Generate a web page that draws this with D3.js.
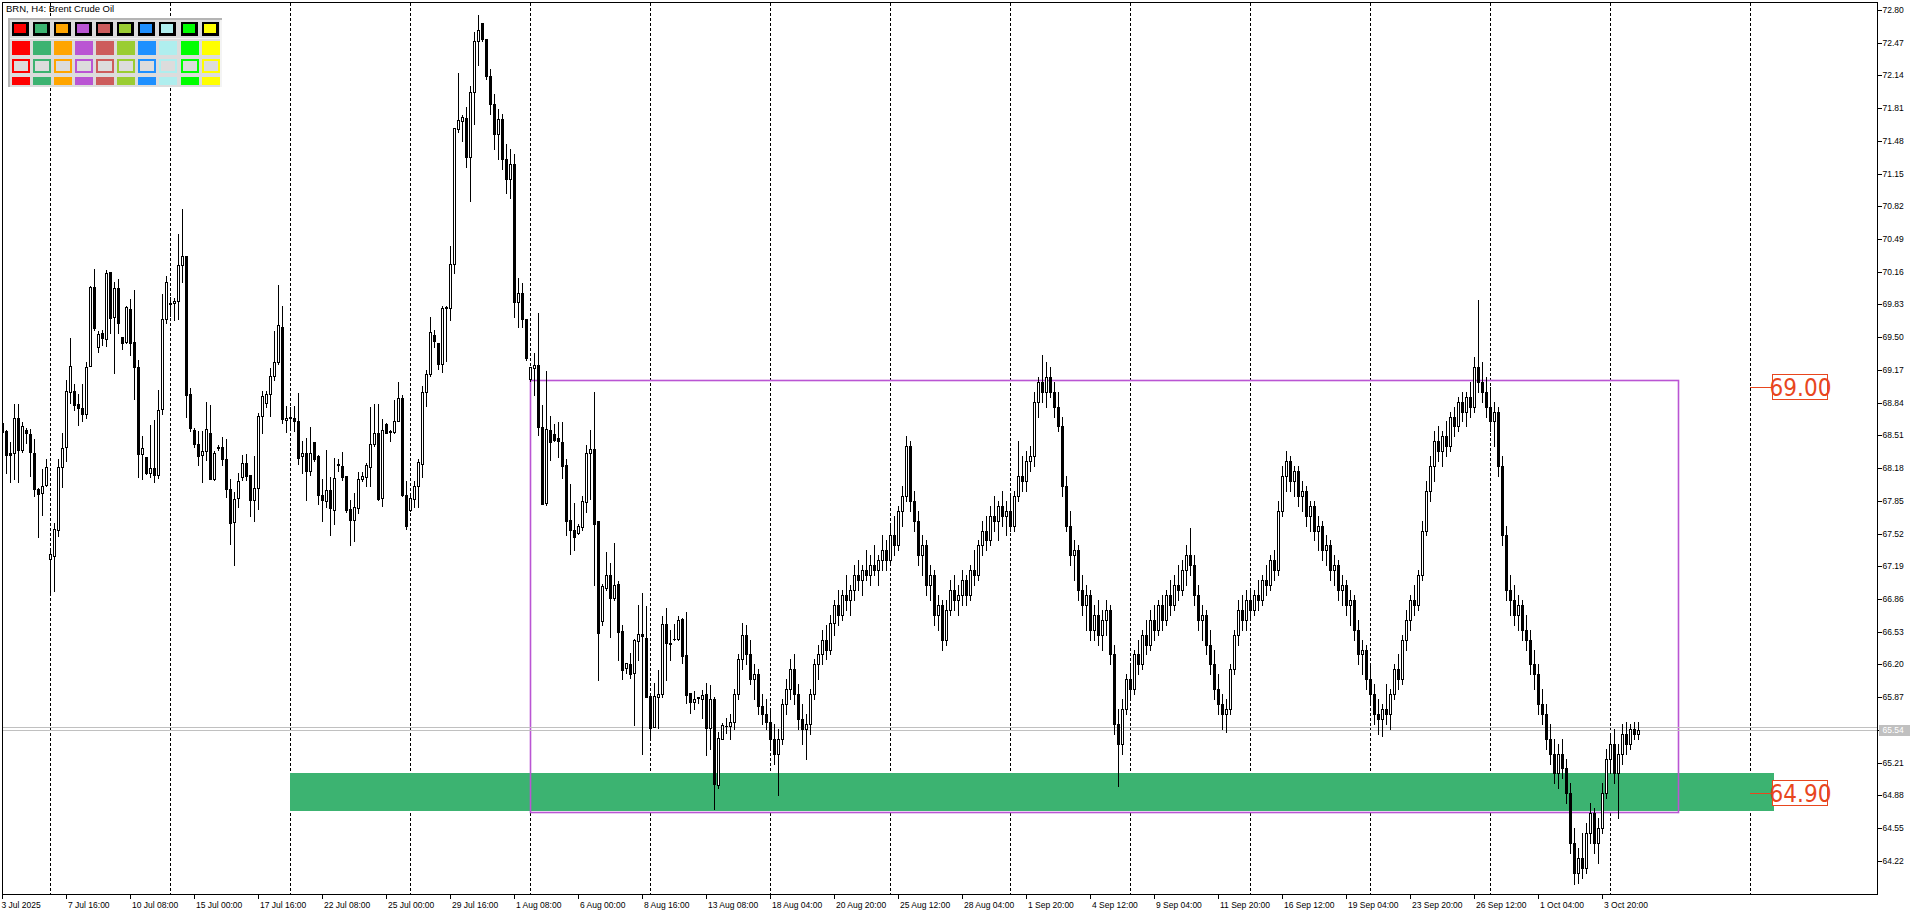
<!DOCTYPE html>
<html><head><meta charset="utf-8">
<script src="https://cdn.jsdelivr.net/npm/d3@7"></script>
<style>
html,body{margin:0;padding:0;background:#fff;overflow:hidden}
svg{display:block}
</style></head><body>
<svg id="chart" width="1920" height="915"></svg>
<script>
// ---- data (H4 candles, bar 0 = 3 Jul 2025) ----
const opens = [
68.63,68.55,68.33,68.33,68.69,68.36,68.56,68.52,68.33,67.97,67.93,68.01,67.26,67.29,67.56,68.19,68.39,68.95,68.96,68.83,
68.79,68.73,69.21,70.01,69.40,69.54,69.48,70.16,69.70,70.00,69.50,69.45,69.78,69.45,69.20,68.32,68.29,68.13,68.18,68.11,
68.78,69.68,69.83,69.84,69.86,70.23,70.32,68.93,68.56,68.42,68.31,68.35,68.53,68.07,68.39,68.39,68.27,67.97,67.64,67.88,
68.09,68.23,68.11,67.86,67.98,68.71,68.84,68.93,69.11,69.25,69.60,68.66,68.69,68.69,68.65,68.30,68.33,68.15,68.44,68.30,
67.91,67.85,67.96,67.76,68.21,68.20,68.10,67.77,67.66,67.78,68.07,68.09,68.19,68.42,68.53,67.88,68.62,68.54,68.54,68.65,
68.89,67.91,67.76,67.87,68.00,68.22,68.95,69.13,69.52,69.44,69.23,69.79,69.79,70.24,71.60,71.68,71.71,71.32,71.97,72.49,
72.67,72.51,72.13,71.85,71.55,71.70,71.30,71.10,71.25,69.85,69.95,69.68,69.08,69.19,69.22,68.59,67.83,68.56,68.52,68.48,
68.44,68.21,67.66,67.56,67.53,67.59,67.84,68.33,68.37,67.65,66.64,66.97,67.10,66.87,67.01,66.54,66.16,66.20,66.11,66.44,
66.51,66.47,65.88,65.57,65.87,65.90,66.61,66.42,66.46,66.46,66.66,66.29,65.91,65.82,65.86,65.85,65.90,65.56,65.85,64.98,
65.45,65.58,65.58,65.62,65.90,66.25,66.50,66.30,66.05,66.10,65.78,65.70,65.62,65.45,65.30,65.45,65.80,65.95,66.15,65.90,
65.65,65.55,65.60,65.90,66.20,66.30,66.45,66.35,66.62,66.80,66.70,66.90,66.85,66.95,67.10,67.05,67.15,67.10,67.20,67.15,
67.25,67.35,67.25,67.50,67.40,67.75,67.90,68.40,67.85,67.65,67.30,67.40,67.00,67.10,66.70,66.80,66.45,66.75,66.95,66.85,
66.90,67.05,66.90,67.15,67.10,67.40,67.55,67.45,67.70,67.65,67.80,67.70,67.75,67.60,67.90,68.10,68.05,68.25,68.30,68.85,
69.05,68.95,69.10,68.95,68.80,68.60,68.00,67.60,67.30,67.35,66.95,66.80,66.90,66.55,66.70,66.50,66.65,66.75,66.30,65.60,
65.40,65.75,66.05,65.95,66.30,66.20,66.50,66.40,66.65,66.55,66.80,66.65,66.90,66.80,67.00,66.95,67.15,67.30,67.20,66.90,
66.65,66.70,66.40,66.20,65.95,65.80,65.70,65.75,66.15,66.50,66.75,66.65,66.85,66.75,66.90,66.85,67.05,67.00,67.25,67.15,
67.75,68.10,68.25,68.05,68.15,67.90,67.95,67.70,67.80,67.55,67.60,67.35,67.40,67.15,67.20,66.95,67.00,66.80,66.85,66.55,
66.30,66.35,66.05,65.90,65.70,65.65,65.75,65.70,65.90,66.15,66.05,66.45,66.65,66.85,66.80,67.10,67.55,67.95,68.20,68.45,
68.35,68.50,68.40,68.70,68.60,68.85,68.75,68.90,68.80,69.20,69.05,68.95,68.80,68.65,68.75,68.20,67.50,66.95,66.85,66.70,
66.80,66.55,66.45,66.20,66.10,65.80,65.70,65.45,65.30,65.10,65.30,65.15,64.90,64.40,64.10,64.25,64.15,64.50,64.70,64.40,
64.55,64.90,65.25,65.40,65.10,65.30,65.50,65.40,65.55,65.50];
const highs = [
68.64,68.56,68.44,68.83,68.83,68.64,68.58,68.57,68.47,67.98,68.17,68.27,67.35,67.63,68.27,68.53,69.07,69.49,69.03,68.93,
69.03,69.25,70.02,70.19,69.56,69.57,70.18,70.16,70.06,70.09,69.50,69.81,69.89,69.98,69.27,68.50,68.29,68.61,68.66,68.97,
69.94,70.12,69.91,69.90,70.54,70.79,70.32,68.99,68.58,68.55,68.55,68.85,68.82,68.35,68.41,68.49,68.47,68.07,67.94,68.13,
68.31,68.32,68.11,68.30,68.74,68.96,68.96,69.19,69.56,70.03,69.81,68.81,68.80,68.81,68.94,68.45,68.48,68.59,68.44,68.31,
68.07,68.36,68.09,68.28,68.27,68.34,68.10,67.86,67.93,68.14,68.14,68.23,68.80,68.83,68.83,68.67,68.63,68.56,68.87,69.05,
68.92,68.05,67.93,68.05,68.27,69.01,69.17,69.70,69.57,69.44,69.81,69.81,70.42,71.61,72.16,71.74,71.82,72.03,72.58,72.75,
72.67,72.51,72.20,71.95,71.80,71.75,71.45,71.40,71.35,70.10,70.05,69.68,69.20,69.34,69.74,68.82,69.16,68.71,68.62,68.64,
68.64,68.27,68.02,67.83,67.62,67.90,68.41,68.56,68.95,67.65,67.01,67.33,67.22,67.42,67.04,66.60,66.21,66.31,66.46,66.80,
66.92,66.79,65.88,66.01,66.14,66.69,66.77,66.55,66.61,66.69,66.67,66.73,65.91,65.93,65.87,65.94,66.01,65.99,65.87,65.52,
65.61,65.66,65.70,65.95,66.30,66.62,66.60,66.45,66.20,66.15,65.90,65.85,65.75,65.60,65.55,65.85,66.05,66.25,66.30,66.00,
65.80,65.70,65.95,66.25,66.40,66.55,66.60,66.70,66.85,66.95,66.95,67.10,67.00,67.20,67.25,67.20,67.35,67.30,67.40,67.30,
67.50,67.45,67.60,67.70,67.80,68.00,68.50,68.45,67.95,67.75,67.50,67.45,67.20,67.15,66.90,66.85,66.85,67.05,67.10,67.00,
67.15,67.10,67.20,67.35,67.45,67.65,67.70,67.80,67.90,67.85,67.95,67.85,67.90,67.95,68.45,68.30,68.35,68.40,68.95,69.10,
69.32,69.25,69.20,69.05,68.95,68.70,68.10,67.75,67.45,67.40,67.10,67.00,66.95,66.80,66.85,66.75,66.85,66.80,66.40,65.75,
65.85,66.10,66.20,66.35,66.45,66.55,66.65,66.75,66.80,66.85,66.90,66.95,67.05,67.10,67.20,67.25,67.40,67.58,67.30,67.00,
66.80,66.75,66.55,66.35,66.10,65.90,65.85,66.20,66.55,66.85,66.90,66.95,66.95,66.95,67.05,67.10,67.20,67.30,67.35,67.85,
68.20,68.35,68.30,68.20,68.20,68.05,68.00,67.85,67.85,67.70,67.65,67.50,67.45,67.30,67.25,67.10,67.05,66.95,66.90,66.65,
66.45,66.40,66.20,66.00,65.85,65.80,66.00,65.95,66.20,66.30,66.50,66.75,66.90,67.00,67.15,67.65,68.05,68.30,68.55,68.60,
68.55,68.65,68.75,68.80,68.90,68.95,68.95,69.05,69.30,69.88,69.25,69.10,69.00,68.85,68.80,68.30,67.60,67.10,67.00,66.90,
66.85,66.70,66.55,66.35,66.20,65.95,65.80,65.60,65.45,65.40,65.45,65.25,65.00,64.55,64.35,64.50,64.60,64.80,64.75,64.65,
65.00,65.35,65.50,65.55,65.40,65.60,65.62,65.60,65.62,65.62];
const lows = [
68.54,68.13,68.04,68.07,68.04,68.34,68.43,68.10,67.90,67.48,67.71,68.00,66.93,66.94,67.49,67.99,68.25,68.84,68.77,68.61,
68.65,68.68,69.21,69.57,69.35,69.42,69.41,69.54,69.14,69.54,69.38,69.44,69.32,68.88,68.09,68.07,68.12,68.09,68.04,68.08,
68.73,69.64,69.71,69.67,69.68,70.06,68.70,68.55,68.39,68.21,68.04,68.26,68.07,68.06,68.36,68.21,67.89,67.41,67.20,67.79,
68.06,68.06,67.70,67.65,67.77,68.53,68.80,68.71,69.07,69.23,68.63,68.54,68.56,68.55,68.22,68.13,67.86,68.11,68.25,67.82,
67.65,67.79,67.50,67.62,68.15,68.06,67.74,67.40,67.44,67.73,68.05,68.00,68.00,68.40,67.86,67.80,68.53,68.45,68.53,68.65,
67.90,67.57,67.75,67.79,67.79,68.09,68.81,69.11,69.40,69.18,69.15,69.26,69.67,70.15,71.57,71.48,71.22,70.87,71.65,72.25,
72.49,72.10,71.75,71.40,71.30,71.20,70.95,70.90,69.70,69.60,69.60,69.27,69.06,68.92,68.51,67.82,67.81,68.26,68.45,68.29,
68.08,67.50,67.31,67.35,67.51,67.56,67.74,67.87,67.00,66.04,66.60,66.95,66.48,66.85,66.24,66.05,66.11,66.06,65.59,66.24,
65.30,65.87,65.47,65.57,65.56,65.87,66.04,66.24,66.45,66.45,66.21,65.81,65.71,65.75,65.81,65.66,65.29,65.35,64.74,64.95,
65.45,65.51,65.45,65.55,65.85,66.15,66.20,66.00,65.85,65.70,65.60,65.55,65.35,65.20,64.88,65.40,65.70,65.85,65.80,65.55,
65.40,65.25,65.50,65.85,66.05,66.20,66.25,66.30,66.50,66.60,66.65,66.75,66.70,66.85,66.95,66.90,67.05,67.00,67.10,67.00,
67.15,67.15,67.20,67.30,67.35,67.60,67.85,67.75,67.55,67.20,67.10,66.90,66.85,66.60,66.55,66.35,66.40,66.70,66.75,66.70,
66.80,66.80,66.85,67.00,67.05,67.30,67.35,67.40,67.55,67.45,67.60,67.50,67.55,67.55,67.85,67.95,67.95,68.15,68.20,68.70,
68.85,68.80,68.90,68.70,68.55,67.90,67.55,67.20,67.05,66.85,66.70,66.55,66.45,66.45,66.40,66.35,66.50,66.20,65.50,64.97,
65.30,65.70,65.85,65.90,66.10,66.15,66.30,66.35,66.45,66.50,66.55,66.60,66.70,66.75,66.85,66.90,67.00,67.10,66.80,66.55,
66.45,66.30,66.10,65.85,65.70,65.55,65.52,65.70,66.10,66.40,66.55,66.55,66.65,66.70,66.75,66.80,66.90,66.95,67.05,67.10,
67.70,67.95,67.95,67.90,67.80,67.75,67.60,67.55,67.45,67.35,67.25,67.20,67.05,67.00,66.85,66.80,66.70,66.60,66.45,66.20,
66.10,65.95,65.80,65.60,65.50,65.48,65.60,65.55,65.85,65.95,66.00,66.35,66.55,66.70,66.75,67.05,67.50,67.85,68.05,68.25,
68.20,68.30,68.35,68.50,68.55,68.65,68.60,68.70,68.75,68.95,68.85,68.70,68.55,68.40,68.10,67.40,66.85,66.70,66.60,66.55,
66.45,66.35,66.10,65.95,65.70,65.60,65.35,65.20,65.00,64.95,65.05,64.80,64.30,63.98,64.00,64.05,64.10,64.40,64.30,64.20,
64.50,64.85,65.10,65.00,64.65,65.20,65.30,65.35,65.45,65.45];
const closes = [
68.54,68.31,68.31,68.69,68.36,68.60,68.53,68.34,67.97,67.92,68.00,68.19,67.31,67.57,68.19,68.38,68.96,69.21,68.82,68.79,
68.73,69.20,70.01,69.59,69.53,69.49,70.15,69.69,70.00,69.64,69.44,69.80,69.44,69.20,68.32,68.38,68.13,68.18,68.11,68.77,
69.68,70.06,69.84,69.87,70.23,70.32,68.92,68.58,68.42,68.30,68.35,68.57,68.07,68.33,68.38,68.27,67.97,67.63,67.87,68.05,
68.23,68.10,67.86,67.98,68.71,68.91,68.93,69.11,69.25,69.62,68.67,68.69,68.70,68.65,68.28,68.33,68.15,68.33,68.27,67.91,
67.86,67.96,67.78,68.08,68.22,68.09,67.76,67.66,67.79,68.07,68.10,68.21,68.42,68.53,67.87,68.56,68.53,68.55,68.65,68.89,
67.91,67.60,67.88,68.00,68.24,68.95,69.13,69.55,69.46,69.23,69.79,69.80,70.24,71.61,71.69,71.72,71.32,71.97,72.49,72.60,
72.51,72.13,71.85,71.55,71.70,71.30,71.10,71.25,69.85,69.95,69.68,69.29,69.20,69.22,68.59,67.82,68.57,68.44,68.46,68.45,
68.20,67.65,67.56,67.48,67.60,67.85,68.33,68.37,67.62,66.52,66.99,67.10,66.87,67.00,66.53,66.14,66.21,66.10,66.45,66.51,
66.49,65.87,65.56,65.88,65.90,66.61,66.42,66.41,66.46,66.65,66.28,65.89,65.82,65.85,65.87,65.89,65.56,65.85,64.99,65.46,
65.59,65.58,65.62,65.90,66.25,66.50,66.30,66.05,66.10,65.78,65.70,65.62,65.45,65.30,65.45,65.80,65.95,66.15,65.90,65.65,
65.55,65.60,65.90,66.20,66.30,66.45,66.35,66.62,66.80,66.70,66.90,66.85,66.95,67.10,67.05,67.15,67.10,67.20,67.15,67.25,
67.35,67.25,67.50,67.40,67.75,67.90,68.40,67.85,67.65,67.30,67.40,67.00,67.10,66.70,66.80,66.45,66.75,66.95,66.85,66.90,
67.05,66.90,67.15,67.10,67.40,67.55,67.45,67.70,67.65,67.80,67.70,67.75,67.60,67.90,68.10,68.05,68.25,68.30,68.85,69.05,
68.95,69.10,68.95,68.80,68.60,68.00,67.60,67.30,67.35,66.95,66.80,66.90,66.55,66.70,66.50,66.65,66.75,66.30,65.60,65.40,
65.75,66.05,65.95,66.30,66.20,66.50,66.40,66.65,66.55,66.80,66.65,66.90,66.80,67.00,66.95,67.15,67.30,67.20,66.90,66.65,
66.70,66.40,66.20,65.95,65.80,65.70,65.75,66.15,66.50,66.75,66.65,66.85,66.75,66.90,66.85,67.05,67.00,67.25,67.15,67.75,
68.10,68.25,68.05,68.15,67.90,67.95,67.70,67.80,67.55,67.60,67.35,67.40,67.15,67.20,66.95,67.00,66.80,66.85,66.55,66.30,
66.35,66.05,65.90,65.70,65.65,65.75,65.70,65.90,66.15,66.05,66.45,66.65,66.85,66.80,67.10,67.55,67.95,68.20,68.45,68.35,
68.50,68.40,68.70,68.60,68.85,68.75,68.90,68.80,69.20,69.05,68.95,68.80,68.65,68.75,68.20,67.50,66.95,66.85,66.70,66.80,
66.55,66.45,66.20,66.10,65.80,65.70,65.45,65.30,65.10,65.30,65.15,64.90,64.40,64.10,64.25,64.15,64.50,64.70,64.40,64.55,
64.90,65.25,65.40,65.10,65.30,65.50,65.40,65.55,65.50,65.54];

const timeLabels = ["3 Jul 2025","7 Jul 16:00","10 Jul 08:00","15 Jul 00:00","17 Jul 16:00","22 Jul 08:00",
 "25 Jul 00:00","29 Jul 16:00","1 Aug 08:00","6 Aug 00:00","8 Aug 16:00","13 Aug 08:00","18 Aug 04:00",
 "20 Aug 20:00","25 Aug 12:00","28 Aug 04:00","1 Sep 20:00","4 Sep 12:00","9 Sep 04:00","11 Sep 20:00",
 "16 Sep 12:00","19 Sep 04:00","23 Sep 20:00","26 Sep 12:00","1 Oct 04:00","3 Oct 20:00"];
const labelEveryBars = 16;
const priceTicks = ["72.80","72.47","72.14","71.81","71.48","71.15","70.82","70.49","70.16","69.83","69.50",
 "69.17","68.84","68.51","68.18","67.85","67.52","67.19","66.86","66.53","66.20","65.87","65.54","65.21",
 "64.88","64.55","64.22"];
const gridBars = [12,42,72,102,132,162,192,222,252,282,312,342,372,402,437];
const bidPrice = 65.54, askPrice = 65.565;
const rangeBox = {startBar:132, endBar:419, top:69.07, bottom:64.71};
const zone = {startBar:72, endBar:443, top:65.10, bottom:64.725};
const levelValues = [69.00, 64.90];
const levelTexts = ["69.00", "64.90"];
const titleText = "BRN, H4: Brent Crude Oil";
const paletteColors = ["#FF0000","#3CB371","#FFA500","#BA55D3","#CD5C5C","#9ACD32","#1E90FF","#AFEEEE","#00FF00","#FFFF00"];

// ---- layout ----
const W = 1920, H = 915;
const plot = {left:2.5, top:2.5, right:1877.5, bottom:894.5};
const x = d3.scaleLinear().domain([0, 1]).range([2.5, 6.5]);   // bar centre lines, 4px per bar
const y = d3.scaleLinear().domain([64.22, 72.80]).range([860.7, 10]);
const svg = d3.select("#chart");
const smallFont = "'Liberation Sans', Arial, sans-serif";

svg.append("rect").attr("width", W).attr("height", H).attr("fill", "#fff");

const clipId = "plotclip";
svg.append("clipPath").attr("id", clipId).append("rect")
  .attr("x", plot.left).attr("y", plot.top)
  .attr("width", plot.right - plot.left).attr("height", plot.bottom - plot.top);
const g = svg.append("g").attr("clip-path", `url(#${clipId})`);

// grid (dashed verticals)
g.selectAll("line.grid").data(gridBars).join("line")
  .attr("class", "grid")
  .attr("x1", d => Math.round(x(d) - 0.5) + 0.5).attr("x2", d => Math.round(x(d) - 0.5) + 0.5)
  .attr("y1", plot.top).attr("y2", plot.bottom)
  .attr("stroke", "#000").attr("stroke-width", 1).attr("stroke-dasharray", "3,2")
  .attr("shape-rendering", "crispEdges");

// green zone
g.append("rect")
  .attr("x", x(zone.startBar) - 0.5).attr("width", x(zone.endBar) - x(zone.startBar))
  .attr("y", Math.round(y(zone.top))).attr("height", Math.round(y(zone.bottom)) - Math.round(y(zone.top)))
  .attr("fill", "#3CB371").attr("shape-rendering", "crispEdges");

// range rectangle
g.append("rect")
  .attr("x", x(rangeBox.startBar)).attr("width", x(rangeBox.endBar) - x(rangeBox.startBar))
  .attr("y", Math.round(y(rangeBox.top)) + 0.5).attr("height", Math.round(y(rangeBox.bottom)) - Math.round(y(rangeBox.top)))
  .attr("fill", "none").attr("stroke", "#BA55D3").attr("stroke-width", 1.6);

// bid / ask lines
[bidPrice, askPrice].forEach(p => {
  g.append("line").attr("x1", plot.left).attr("x2", plot.right)
    .attr("y1", Math.round(y(p)) + 0.5).attr("y2", Math.round(y(p)) + 0.5)
    .attr("stroke", "#C0C0C0").attr("stroke-width", 1).attr("shape-rendering", "crispEdges");
});

// candles
const bars = opens.map((o, i) => ({i, o, h: highs[i], l: lows[i], c: closes[i]}));
const cg = g.append("g").attr("shape-rendering", "crispEdges");
cg.selectAll("line.wick").data(bars).join("line")
  .attr("class", "wick")
  .attr("x1", d => x(d.i)).attr("x2", d => x(d.i))
  .attr("y1", d => Math.round(y(d.h))).attr("y2", d => Math.round(y(d.l)) + 1)
  .attr("stroke", "#000").attr("stroke-width", 1);
cg.selectAll("rect.body").data(bars).join("rect")
  .attr("class", "body")
  .each(function(d) {
    const t = Math.round(y(Math.max(d.o, d.c)));
    const b = Math.round(y(Math.min(d.o, d.c)));
    const sel = d3.select(this);
    if (d.c > d.o && b - t >= 2) {
      sel.attr("x", x(d.i) - 1).attr("y", t + 0.5).attr("width", 2).attr("height", b - t)
        .attr("fill", "#fff").attr("stroke", "#000").attr("stroke-width", 1);
    } else {
      sel.attr("x", x(d.i) - 1.5).attr("y", t).attr("width", 3).attr("height", Math.max(1, b - t + 1))
        .attr("fill", "#000");
    }
  });

// level labels
levelValues.forEach((v, k) => {
  const yy = Math.round(y(v)) + 0.5;
  svg.append("line").attr("x1", 1750).attr("x2", 1772.5).attr("y1", yy).attr("y2", yy)
    .attr("stroke", "#E8461E").attr("stroke-width", 1).attr("shape-rendering", "crispEdges");
  svg.append("rect").attr("x", 1772.5).attr("y", yy - 13).attr("width", 55).attr("height", 25)
    .attr("fill", "#fff").attr("stroke", "#E8461E").attr("stroke-width", 1).attr("shape-rendering", "crispEdges");
  svg.append("text").attr("x", 1800.5).attr("y", yy).attr("dy", "0.36em")
    .attr("text-anchor", "middle")
    .attr("font-family", "'Liberation Sans Narrow','DejaVu Sans Condensed',Arial,sans-serif")
    .attr("font-stretch", "condensed")
    .attr("font-size", 24).attr("fill", "#E8461E").text(levelTexts[k]);
});

// frame
svg.append("rect").attr("x", plot.left).attr("y", plot.top)
  .attr("width", plot.right - plot.left).attr("height", plot.bottom - plot.top)
  .attr("fill", "none").attr("stroke", "#000").attr("stroke-width", 1).attr("shape-rendering", "crispEdges");

// price axis
const pa = svg.append("g");
priceTicks.forEach(t => {
  const v = +t, yy = Math.round(y(v)) + 0.5;
  pa.append("line").attr("x1", plot.right).attr("x2", plot.right + 4).attr("y1", yy).attr("y2", yy)
    .attr("stroke", "#000").attr("shape-rendering", "crispEdges");
  pa.append("text").attr("x", plot.right + 5).attr("y", yy).attr("dy", "0.35em")
    .attr("font-family", smallFont).attr("font-size", 8.5).attr("fill", "#000").text(t);
});
// bid label box
{
  const yy = Math.round(y(bidPrice));
  pa.append("rect").attr("x", plot.right + 1.5).attr("y", yy - 5).attr("width", 31).attr("height", 11)
    .attr("fill", "#C0C0C0");
  pa.append("text").attr("x", plot.right + 5).attr("y", yy + 0.5).attr("dy", "0.35em")
    .attr("font-family", smallFont).attr("font-size", 8.5).attr("fill", "#fff").text(bidPrice.toFixed(2));
}

// time axis
const ta = svg.append("g");
timeLabels.forEach((t, k) => {
  const xx = Math.round(x(k * labelEveryBars) - 0.5) + 0.5;
  ta.append("line").attr("x1", xx).attr("x2", xx).attr("y1", plot.bottom).attr("y2", plot.bottom + 4)
    .attr("stroke", "#000").attr("shape-rendering", "crispEdges");
  ta.append("text").attr("x", xx + (k === 0 ? -1 : 1.5)).attr("y", 905).attr("dy", "0.35em")
    .attr("font-family", smallFont).attr("font-size", 8.5).attr("fill", "#000").text(t);
});

// title
svg.append("text").attr("x", 6).attr("y", 12).attr("font-family", smallFont)
  .attr("font-size", 9.5).attr("fill", "#000").text(titleText);

// colour palette panel
const pal = svg.append("g").attr("shape-rendering", "crispEdges");
pal.append("rect").attr("x", 8).attr("y", 18).attr("width", 214).attr("height", 69).attr("fill", "#DCDCDC");
pal.append("rect").attr("x", 8).attr("y", 18).attr("width", 214).attr("height", 2).attr("fill", "#B4B4B4");
pal.append("rect").attr("x", 8).attr("y", 18).attr("width", 2).attr("height", 69).attr("fill", "#B4B4B4");
pal.append("rect").attr("x", 10).attr("y", 38).attr("width", 212).attr("height", 1).attr("fill", "#F4F4F4");
pal.append("rect").attr("x", 220).attr("y", 20).attr("width", 2).attr("height", 67).attr("fill", "#F4F4F4");
const px = k => 12 + k * 21.07;
paletteColors.forEach((c, k) => {
  pal.append("rect").attr("x", px(k)).attr("y", 21.5).attr("width", 17).attr("height", 14.5).attr("fill", "#000");
  pal.append("rect").attr("x", px(k) + 2).attr("y", 23.5).attr("width", 12).attr("height", 9.5).attr("fill", c);
  pal.append("rect").attr("x", px(k)).attr("y", 40.5).attr("width", 18).attr("height", 14.5).attr("fill", c);
  pal.append("rect").attr("x", px(k) + 1).attr("y", 59.5).attr("width", 16).attr("height", 12)
    .attr("fill", "#DCDCDC").attr("stroke", c).attr("stroke-width", 2);
  pal.append("rect").attr("x", px(k)).attr("y", 76.5).attr("width", 18).attr("height", 8).attr("fill", c);
});
</script>
</body></html>
